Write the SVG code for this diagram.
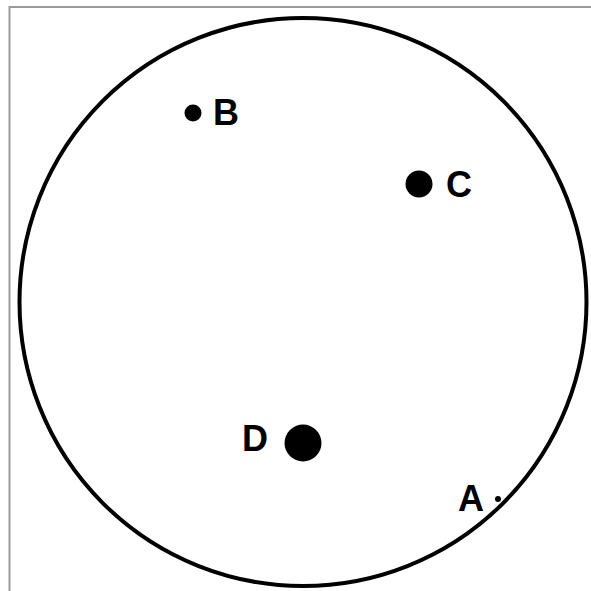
<svg xmlns="http://www.w3.org/2000/svg" width="591" height="591" viewBox="0 0 591 591">
  <style>
    .frame { stroke: #9a9a9a; stroke-width: 2; fill: none; }
    .circle { stroke: #000; stroke-width: 4; fill: none; }
    .dot { fill: #000; }
    .lbl { font-family: "Liberation Sans", Arial, sans-serif; font-weight: bold; font-size: 36px; fill: #000; }
  </style>
  <rect x="0" y="0" width="591" height="591" fill="#fff"/>
  <path class="frame" d="M9.5 591 V7 H591"/>
  <g id="boundary">
    <ellipse class="circle" cx="303" cy="302" rx="283.5" ry="284"/>
  </g>
  <g id="connectors"/>
  <g id="node-B">
    <circle class="dot" cx="193" cy="113" r="8.5"/>
    <text class="lbl" x="213" y="125">B</text>
  </g>
  <g id="node-C">
    <circle class="dot" cx="419" cy="184" r="13.5"/>
    <text class="lbl" x="446" y="197">C</text>
  </g>
  <g id="node-D">
    <circle class="dot" cx="303" cy="443" r="18.5"/>
    <text class="lbl" x="242" y="451">D</text>
  </g>
  <g id="node-A">
    <circle class="dot" cx="498" cy="499" r="3"/>
    <text class="lbl" x="458" y="511">A</text>
  </g>
</svg>
